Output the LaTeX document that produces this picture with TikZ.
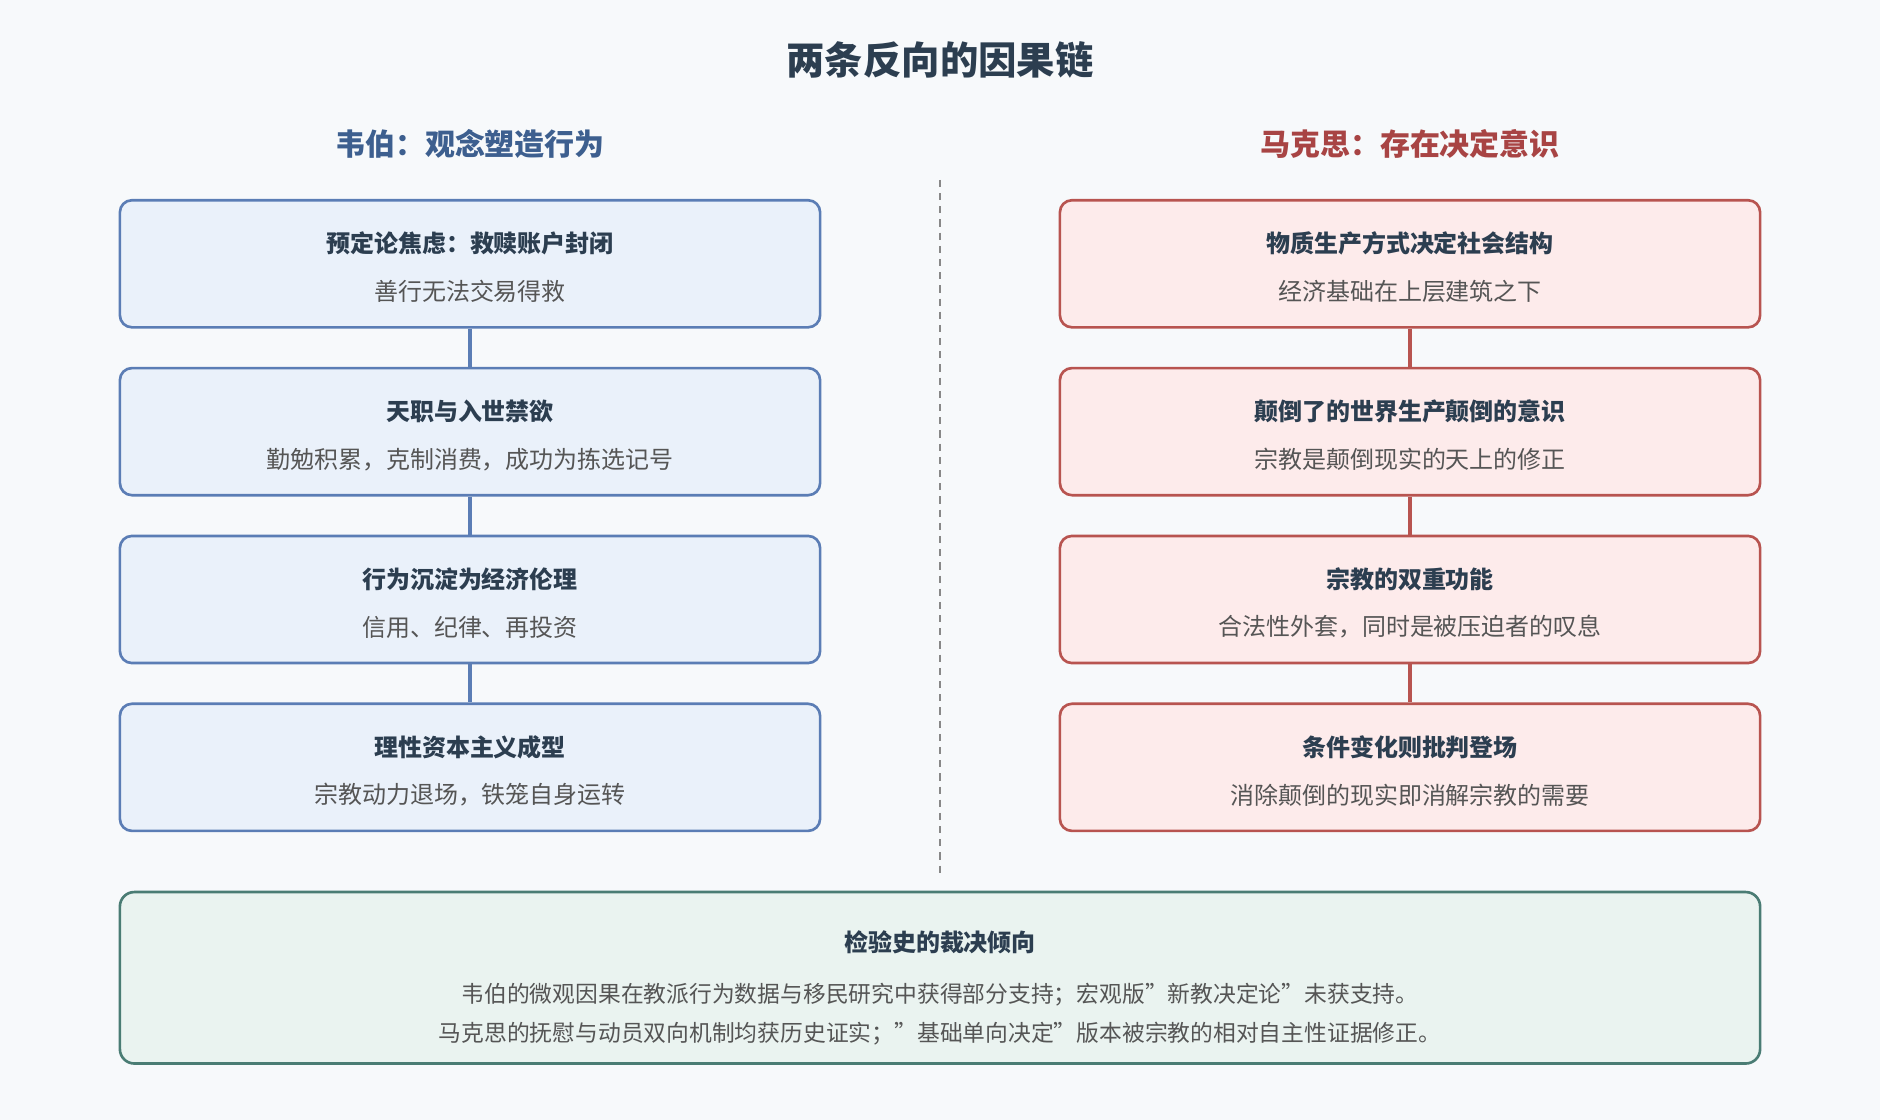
\documentclass[tikz,border=0pt]{standalone}
\usepackage{fontspec}
\setmainfont{Noto Sans CJK SC}
\begin{document}
\begin{tikzpicture}[x=1pt,y=-1pt,
 lbox/.style={draw=lb,fill=lf,line width=2.2pt,rounded corners=10pt},
 rbox/.style={draw=rb,fill=rf,line width=2.2pt,rounded corners=10pt},
 hd/.style={font=\fontsize{20}{24}\selectfont\bfseries,text=dk},
 bd/.style={font=\fontsize{20}{24}\selectfont,text=gy},
 lconn/.style={draw=lb,line width=3pt},
 rconn/.style={draw=rb,line width=3pt}]
\definecolor{bg}{HTML}{F7F9FB}
\definecolor{lb}{HTML}{5B7DB5}\definecolor{lf}{HTML}{EAF1FA}
\definecolor{rb}{HTML}{B85450}\definecolor{rf}{HTML}{FDEBEB}
\definecolor{gb}{HTML}{4A7C74}\definecolor{gf}{HTML}{EAF3F0}
\definecolor{dk}{HTML}{2C3E50}\definecolor{gy}{HTML}{555555}
\definecolor{lt}{HTML}{3D5F8F}\definecolor{rt}{HTML}{A84444}
\fill[bg] (0,0) rectangle (1568,934);
\useasboundingbox (0,0) rectangle (1568,934);
\node[font=\fontsize{32}{38}\selectfont\bfseries,text=dk] (title) at (784,50) {两条反向的因果链};
\node[font=\fontsize{25}{30}\selectfont\bfseries,text=lt] (lt) at (392,120) {韦伯：观念塑造行为};
\node[font=\fontsize{25}{30}\selectfont\bfseries,text=rt] (rt) at (1176,120) {马克思：存在决定意识};
\coordinate (dtop) at (784,150); \coordinate (dbot) at (784,728);
\draw[gy!70,line width=1.6pt,dash pattern=on 6pt off 5pt] (dtop)--(dbot);
\foreach \i/\y/\h/\b in {1/167/预定论焦虑：救赎账户封闭/善行无法交易得救,2/307/天职与入世禁欲/勤勉积累，克制消费，成功为拣选记号,3/447/行为沉淀为经济伦理/信用、纪律、再投资,4/587/理性资本主义成型/宗教动力退场，铁笼自身运转}{
 \node[lbox,minimum width=584pt,minimum height=106pt] (L\i) at (392,\y+53) {};
 \node[hd] (Lh\i) at (392,\y+36) {\h};
 \node[bd] (Lb\i) at (392,\y+76) {\b};}
\foreach \i/\y/\h/\b in {1/167/物质生产方式决定社会结构/经济基础在上层建筑之下,2/307/颠倒了的世界生产颠倒的意识/宗教是颠倒现实的天上的修正,3/447/宗教的双重功能/合法性外套，同时是被压迫者的叹息,4/587/条件变化则批判登场/消除颠倒的现实即消解宗教的需要}{
 \node[rbox,minimum width=584pt,minimum height=106pt] (R\i) at (1176,\y+53) {};
 \node[hd] (Rh\i) at (1176,\y+36) {\h};
 \node[bd] (Rb\i) at (1176,\y+76) {\b};}
\foreach \a/\c in {1/2,2/3,3/4}{
 \draw[lconn] (L\a.south)--(L\c.north);
 \draw[rconn] (R\a.south)--(R\c.north);}
\node[draw=gb,fill=gf,line width=2.2pt,rounded corners=12pt,minimum width=1368pt,minimum height=143pt] (G) at (784,815.5) {};
\node[hd] (Gh) at (784,786) {检验史的裁决倾向};
\node[font=\fontsize{19}{23}\selectfont,text=gy] (G1) at (784,830) {韦伯的微观因果在教派行为数据与移民研究中获得部分支持；宏观版"新教决定论"未获支持。};
\node[font=\fontsize{19}{23}\selectfont,text=gy] (G2) at (784,862) {马克思的抚慰与动员双向机制均获历史证实；"基础单向决定"版本被宗教的相对自主性证据修正。};
\end{tikzpicture}
\end{document}
